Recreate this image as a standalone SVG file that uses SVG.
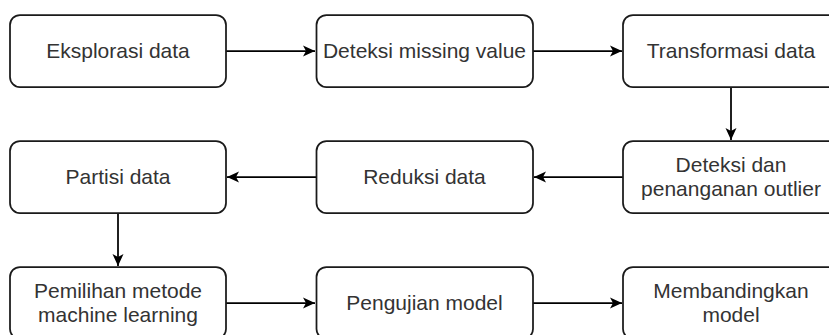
<svg xmlns="http://www.w3.org/2000/svg" width="829" height="335" viewBox="0 0 829 335">
<defs>
<style>
.box{fill:#ffffff;stroke:#1a1a1a;stroke-width:1.75}
.lbl{font-family:"Liberation Sans",Arial,sans-serif;font-size:21px;fill:#333333;text-anchor:middle}
.edge{fill:none;stroke:#000000;stroke-width:1.75}
</style>
<marker id="arr" markerUnits="userSpaceOnUse" markerWidth="14" markerHeight="12" refX="12" refY="6" orient="auto">
<path d="M0,0.5 L12,6 L0,11.5 L3,6 Z" fill="#000000"/>
</marker>
</defs>
<rect width="829" height="335" fill="#ffffff"/>
<g id="connectors">
<path class="edge" d="M226,51 L315,51" marker-end="url(#arr)"/>
<path class="edge" d="M533,51 L622,51" marker-end="url(#arr)"/>
<path class="edge" d="M731,87 L731,140" marker-end="url(#arr)"/>
<path class="edge" d="M623,177 L534,177" marker-end="url(#arr)"/>
<path class="edge" d="M316,177 L227,177" marker-end="url(#arr)"/>
<path class="edge" d="M118,213 L118,266" marker-end="url(#arr)"/>
<path class="edge" d="M226,303 L315,303" marker-end="url(#arr)"/>
<path class="edge" d="M533,303 L622,303" marker-end="url(#arr)"/>
</g>
<g id="n1"><rect class="box" x="10" y="15" width="216" height="72" rx="10"/><text class="lbl" x="118" y="57.5">Eksplorasi data</text></g>
<g id="n2"><rect class="box" x="316.5" y="15" width="216.5" height="72" rx="10"/><text class="lbl" x="424.5" y="57.5">Deteksi missing value</text></g>
<g id="n3"><rect class="box" x="623" y="15" width="216" height="72" rx="10"/><text class="lbl" x="731" y="57.5">Transformasi data</text></g>
<g id="n4"><rect class="box" x="623" y="141" width="216" height="72" rx="10"/><text class="lbl" x="731" y="171.5">Deteksi dan</text><text class="lbl" x="731" y="196">penanganan outlier</text></g>
<g id="n5"><rect class="box" x="316.5" y="141" width="216.5" height="72" rx="10"/><text class="lbl" x="424.5" y="183.5">Reduksi data</text></g>
<g id="n6"><rect class="box" x="10" y="141" width="216" height="72" rx="10"/><text class="lbl" x="118" y="183.5">Partisi data</text></g>
<g id="n7"><rect class="box" x="10" y="267" width="216" height="72" rx="10"/><text class="lbl" x="118" y="298">Pemilihan metode</text><text class="lbl" x="118" y="322">machine learning</text></g>
<g id="n8"><rect class="box" x="316.5" y="267" width="216.5" height="72" rx="10"/><text class="lbl" x="424.5" y="309.5">Pengujian model</text></g>
<g id="n9"><rect class="box" x="623" y="267" width="216" height="72" rx="10"/><text class="lbl" x="731" y="298">Membandingkan</text><text class="lbl" x="731" y="322">model</text></g>
</svg>
